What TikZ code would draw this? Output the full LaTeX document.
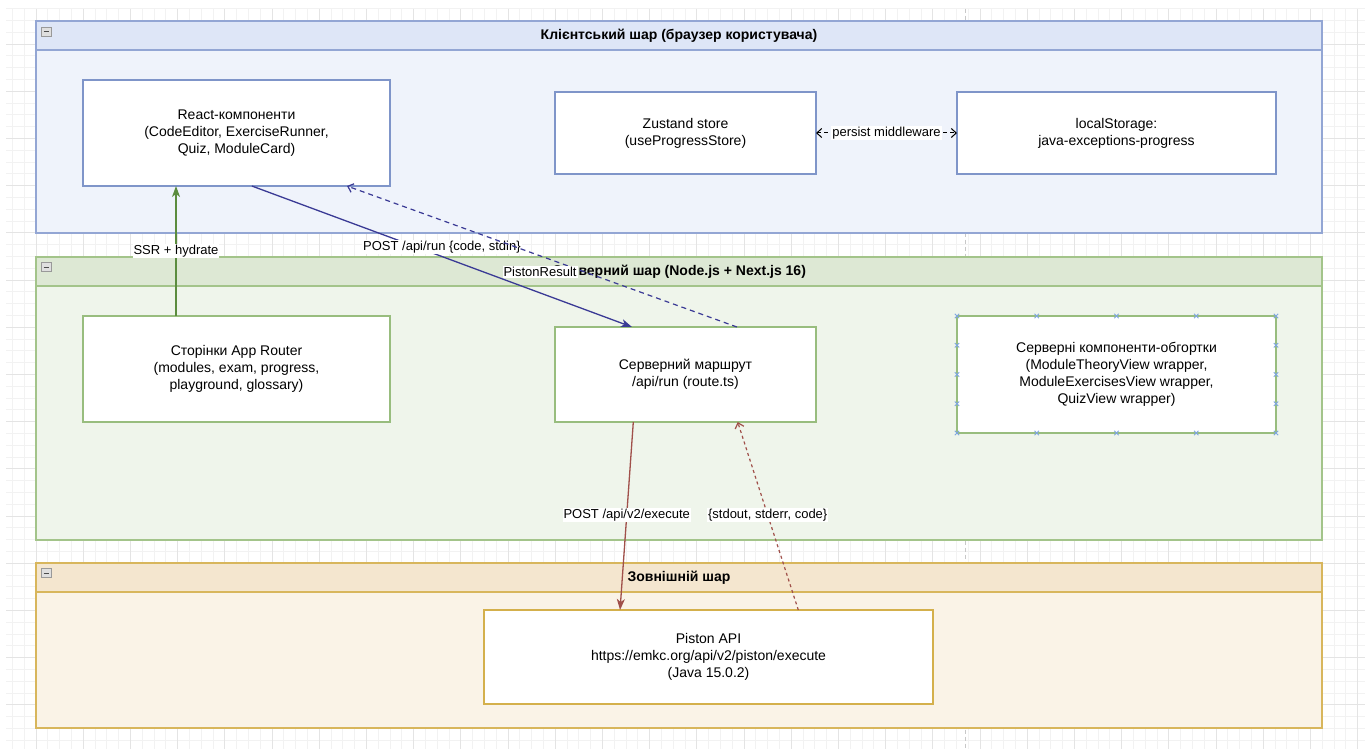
\documentclass[tikz,border=0pt]{standalone}
\usepackage{fontspec}
\setmainfont{Liberation Sans}
\usetikzlibrary{arrows.meta,calc}
\definecolor{gridminor}{HTML}{F2F2F2}
\definecolor{gridmajor}{HTML}{E4E4E4}
\definecolor{pagebrk}{HTML}{C8C8C8}
\definecolor{cbord}{HTML}{93A6D4}
\definecolor{chead}{HTML}{DEE6F7}
\definecolor{cbody}{HTML}{EFF3FB}
\definecolor{cnode}{HTML}{7F95C9}
\definecolor{sbord}{HTML}{A3C48A}
\definecolor{shead}{HTML}{DDE8D4}
\definecolor{sbody}{HTML}{EFF5EB}
\definecolor{snode}{HTML}{98BD7E}
\definecolor{ebord}{HTML}{D8B65C}
\definecolor{ehead}{HTML}{F4E6CF}
\definecolor{ebody}{HTML}{FAF3E7}
\definecolor{enode}{HTML}{D4B04C}
\definecolor{ssrgreen}{HTML}{5B8C3E}
\definecolor{navy}{HTML}{3A3A95}
\definecolor{brick}{HTML}{A0504A}
\definecolor{handle}{HTML}{7EA6E0}
\tikzset{
  nodefont/.style={font=\fontsize{14}{16.8}\selectfont},
  lblfont/.style={font=\fontsize{13}{15.6}\selectfont},
  titlefont/.style={font=\fontsize{14}{16.8}\selectfont\bfseries},
  box/.style={draw, fill=white, line width=1.3pt, rectangle, inner sep=0pt, outer sep=0pt, align=center, nodefont},
  layerbody/.style={draw, line width=1.3pt, rectangle, inner sep=0pt, outer sep=0pt, minimum width=1286pt},
  layerhead/.style={draw, line width=1.3pt, rectangle, inner sep=0pt, outer sep=0pt, minimum width=1286pt, minimum height=29pt},
  ttl/.style={titlefont, inner sep=0pt},
  lbl/.style={lblfont, fill=white, inner sep=1pt, text=black},
  minusicon/.style={draw=gray!80, fill=gray!25, line width=0.7pt, minimum width=10pt, minimum height=9pt, inner sep=0pt, rectangle},
  classic/.style={-{Stealth[length=11pt,width=8pt,inset=3pt]}},
  openarr/.style={-{Straight Barb[length=5pt,width=9pt]}},
  hcross/.style={draw=handle, line width=0.9pt},
}
\begin{document}
\begin{tikzpicture}[x=1pt,y=-1pt]
\useasboundingbox (0,0) rectangle (1365,749);
\fill[white] (0,0) rectangle (1365,749);
% grid
\foreach \i in {-2,...,112} \draw[gridminor, line width=0.8pt] ({36+11.8*\i},8.6) -- ({36+11.8*\i},749);
\foreach \j in {-23,...,39} \draw[gridminor, line width=0.8pt] (6,{280+11.8*\j}) -- (1365,{280+11.8*\j});
\foreach \i in {0,4,...,112} \draw[gridmajor, line width=0.8pt] ({36+11.8*\i},8.6) -- ({36+11.8*\i},749);
\foreach \j in {-20,-16,...,36} \draw[gridmajor, line width=0.8pt] (6,{280+11.8*\j}) -- (1365,{280+11.8*\j});
\draw[pagebrk, line width=0.8pt, dash pattern=on 4pt off 3pt] (965.5,8.6) -- (965.5,749);

% client layer
\node[layerbody, draw=cbord, fill=cbody, minimum height=212pt] (clientL) at (679,127) {};
\node[layerhead, draw=cbord, fill=chead] (clientH) at (679,35.5) {};
\node[ttl] (clientT) at (679,36) {Клієнтський шар (браузер користувача)};
\node[minusicon] (clientM) at (46,32) {};
\draw[gray!60!black, line width=1pt] ($(clientM.center)+(-2.5,0)$) -- ($(clientM.center)+(2.5,0)$);

% server layer
\node[layerbody, draw=sbord, fill=sbody, minimum height=283pt] (serverL) at (679,398.5) {};
\node[layerhead, draw=sbord, fill=shead] (serverH) at (679,271.5) {};
\node[ttl] (serverT) at (679,272) {Серверний шар (Node.js + Next.js 16)};
\node[minusicon] (serverM) at (46,267) {};
\draw[gray!60!black, line width=1pt] ($(serverM.center)+(-2.5,0)$) -- ($(serverM.center)+(2.5,0)$);

% external layer
\node[layerbody, draw=ebord, fill=ebody, minimum height=165pt] (extL) at (679,645.5) {};
\node[layerhead, draw=ebord, fill=ehead] (extH) at (679,577.5) {};
\node[ttl] (extT) at (679,578) {Зовнішній шар};
\node[minusicon] (extM) at (46,573) {};
\draw[gray!60!black, line width=1pt] ($(extM.center)+(-2.5,0)$) -- ($(extM.center)+(2.5,0)$);

% client nodes
\node[box, draw=cnode, minimum width=307pt, minimum height=106pt] (react) at (236.5,133)
  {React-компоненти\\(CodeEditor, ExerciseRunner,\\Quiz, ModuleCard)};
\node[box, draw=cnode, minimum width=261pt, minimum height=82pt] (zustand) at (685.5,133)
  {Zustand store\\(useProgressStore)};
\node[box, draw=cnode, minimum width=319pt, minimum height=82pt] (local) at (1116.5,133)
  {localStorage:\\java-exceptions-progress};

% server nodes
\node[box, draw=snode, minimum width=307pt, minimum height=106pt] (router) at (236.5,369)
  {Сторінки App Router\\(modules, exam, progress,\\playground, glossary)};
\node[box, draw=snode, minimum width=261pt, minimum height=95pt] (route) at (685.5,374.5)
  {Серверний маршрут\\/api/run (route.ts)};
\node[box, draw=snode, minimum width=319pt, minimum height=117pt] (wrap) at (1116.5,374.5)
  {Серверні компоненти-обгортки\\(ModuleTheoryView wrapper,\\ModuleExercisesView wrapper,\\QuizView wrapper)};
% selection handles
\foreach \f in {0,0.25,0.5,0.75,1} {
  \foreach \a/\b in {north west/north east, south west/south east} {
    \coordinate (h) at ($(wrap.\a)!\f!(wrap.\b)$);
    \draw[hcross] ($(h)+(-2.2,-2.2)$) -- ($(h)+(2.2,2.2)$) ($(h)+(-2.2,2.2)$) -- ($(h)+(2.2,-2.2)$);
  }
}
\foreach \f in {0.25,0.5,0.75} {
  \foreach \a/\b in {north west/south west, north east/south east} {
    \coordinate (h) at ($(wrap.\a)!\f!(wrap.\b)$);
    \draw[hcross] ($(h)+(-2.2,-2.2)$) -- ($(h)+(2.2,2.2)$) ($(h)+(-2.2,2.2)$) -- ($(h)+(2.2,-2.2)$);
  }
}

% external node
\node[box, draw=enode, minimum width=449pt, minimum height=94pt] (piston) at (708.5,657)
  {Piston API\\https://emkc.org/api/v2/piston/execute\\(Java 15.0.2)};

% connectors
\draw[ssrgreen, line width=1.3pt, classic]
  ($(router.north west)!0.303!(router.north east)$) -- ($(react.south west)!0.303!(react.south east)$)
  node[lbl, pos=0.5] {SSR + hydrate};
\draw[navy, line width=1.3pt, classic]
  ($(react.south west)!0.55!(react.south east)$) -- ($(route.north west)!0.295!(route.north east)$)
  node[lbl, pos=0.5, yshift=9.5pt] (postrun) {POST /api/run \{code, stdin\}};
\draw[navy, line width=1.2pt, dash pattern=on 5pt off 4pt, openarr]
  ($(route.north west)!0.697!(route.north east)$) -- ($(react.south west)!0.86!(react.south east)$)
  node[lbl, pos=0.505, yshift=-16pt] {PistonResult};
\draw[brick, line width=1.3pt, classic]
  ($(route.south west)!0.3!(route.south east)$) -- ($(piston.north west)!0.303!(piston.north east)$)
  node[lbl, pos=0.495] {POST /api/v2/execute};
\draw[brick, line width=1.2pt, dash pattern=on 3pt off 3pt, openarr]
  ($(piston.north west)!0.7!(piston.north east)$) -- ($(route.south west)!0.7!(route.south east)$)
  node[lbl, pos=0.505] {\{stdout, stderr, code\}};
\draw[black, line width=1pt, dash pattern=on 4pt off 3pt, {Straight Barb[length=5pt,width=9pt]}-{Straight Barb[length=5pt,width=9pt]}]
  (zustand.east) -- (local.east -| local.west)
  node[lbl, pos=0.5] {persist middleware};
\end{tikzpicture}
\end{document}
